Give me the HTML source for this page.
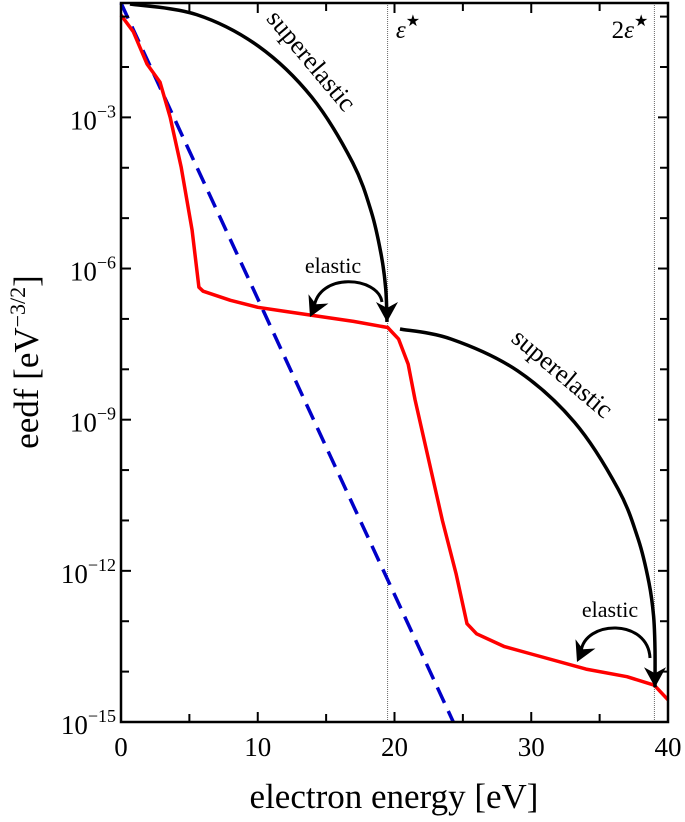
<!DOCTYPE html>
<html><head><meta charset="utf-8"><style>
body{margin:0;background:#fff}
svg text{font-family:"Liberation Serif",serif}
</style></head><body>
<svg id="chart" width="685" height="817" viewBox="0 0 685 817" xmlns="http://www.w3.org/2000/svg">
<g id="plot"></g>
</svg>
<script>
const xTicks=[0,10,20,30,40];
const yTickExp=[-3,-6,-9,-12,-15];
const blueE=[0,5,10,15,20,24.3];
const blueLog=[-0.73,-3.67,-6.6,-9.54,-12.47,-15];
const redE=[0,0.9,1.9,2.85,3.6,4.4,5.2,5.7,6,8,10,12,14,17,19.5,20.3,21,21.5,22.5,23.5,24.5,25.3,26,28,30,34,37,39,40];
const redLog=[-0.97,-1.3,-1.94,-2.3,-3.0,-3.99,-5.24,-6.37,-6.45,-6.63,-6.77,-6.85,-6.93,-7.05,-7.17,-7.4,-7.9,-8.6,-9.8,-11,-12.05,-13.05,-13.25,-13.5,-13.65,-13.95,-14.1,-14.27,-14.56];
const sup1E=[0.66,5.53,10.06,13.95,16.94,18.33,19.04,19.36,19.45];
const sup1Log=[-0.75,-0.96,-1.59,-2.6,-3.9,-4.9,-5.75,-6.4,-7.06];
const sup2E=[20.4,24.15,29.0,33.16,36.36,37.84,38.61,38.95,39.05,39.05];
const sup2Log=[-7.2,-7.4,-8.03,-9.05,-10.38,-11.39,-12.24,-12.9,-13.57,-14.31];

const L=121,R=668,T=3,B=722;
const X=e=>L+(e/40)*(R-L);
const Y=lg=>B-(lg+15)*(B-T)/14.27;
const NS='http://www.w3.org/2000/svg';
const g=document.getElementById('plot');
function mk(tag,attrs,parent){const el=document.createElementNS(NS,tag);for(const k in attrs)el.setAttribute(k,attrs[k]);(parent||g).appendChild(el);return el;}
function pts(E,V){return E.map((e,i)=>X(e).toFixed(1)+','+Y(V[i]).toFixed(1)).join(' ');}
function smooth(E,V){
  const p=E.map((e,i)=>[X(e),Y(V[i])]);
  let d='M'+p[0][0].toFixed(1)+','+p[0][1].toFixed(1);
  for(let i=0;i<p.length-1;i++){
    const p0=p[Math.max(0,i-1)],p1=p[i],p2=p[i+1],p3=p[Math.min(p.length-1,i+2)];
    const c1=[p1[0]+(p2[0]-p0[0])/6,p1[1]+(p2[1]-p0[1])/6];
    const c2=[p2[0]-(p3[0]-p1[0])/6,p2[1]-(p3[1]-p1[1])/6];
    d+=` C${c1[0].toFixed(1)},${c1[1].toFixed(1)} ${c2[0].toFixed(1)},${c2[1].toFixed(1)} ${p2[0].toFixed(1)},${p2[1].toFixed(1)}`;
  }
  return d;
}

let v1=mk('line',{x1:X(19.5),x2:X(19.5),y1:T,y2:B,stroke:'#444','stroke-width':0.8,'stroke-dasharray':'1,1'});


let v2=mk('line',{x1:X(39),x2:X(39),y1:T,y2:B,stroke:'#444','stroke-width':0.8,'stroke-dasharray':'1,1'});



let blue=mk('polyline',{points:pts(blueE,blueLog),fill:'none',stroke:'#0000c8','stroke-width':3.5,'stroke-dasharray':'17,9'});


let red=mk('polyline',{points:pts(redE,redLog),fill:'none',stroke:'#f00','stroke-width':3.5,'stroke-linejoin':'round'});


let s1=mk('path',{d:smooth(sup1E,sup1Log),fill:'none',stroke:'#000','stroke-width':3.5});


let s2=mk('path',{d:smooth(sup2E,sup2Log),fill:'none',stroke:'#000','stroke-width':3.5});



function head(x,y,ang,name){
  const h=mk('path',{d:'M0,0 L-20,-11 L-14,0 L-20,11 Z',fill:'#000',transform:`translate(${x},${y}) rotate(${ang})`});
  
  
}
head(X(19.45),Y(-7.06),90,'superelastic-arrowhead-1');
head(X(39.05),Y(-14.31),90,'superelastic-arrowhead-2');
let a1=mk('path',{d:'M382,302 C378,276 318,272 314,308',fill:'none',stroke:'#000','stroke-width':3});


head(310,317,115,'elastic-arrowhead-1');
let a2=mk('path',{d:'M650,658 C648,618 584,620 581,652',fill:'none',stroke:'#000','stroke-width':3});


head(577,662,115,'elastic-arrowhead-2');

let fr=mk('rect',{x:L,y:T,width:R-L,height:B-T,fill:'none',stroke:'#000','stroke-width':2.5});


for(let e=0;e<=40;e+=5){
  const len=e%10===0?10:8;
  let t=mk('line',{x1:X(e),x2:X(e),y1:B,y2:B-len,stroke:'#000','stroke-width':2});
  
  
  let t2=mk('line',{x1:X(e),x2:X(e),y1:T,y2:T+len,stroke:'#000','stroke-width':2});
  
  
}
xTicks.forEach(e=>{
  let tx=mk('text',{x:X(e),y:B+34,'text-anchor':'middle','font-size':27});
  tx.textContent=e;
  
  
});
for(let k=-15;k<=-1;k++){
  const len=k%3===0?10:8;
  let t=mk('line',{x1:L,x2:L+len,y1:Y(k),y2:Y(k),stroke:'#000','stroke-width':2});
  
  
  let t2=mk('line',{x1:R,x2:R-len,y1:Y(k),y2:Y(k),stroke:'#000','stroke-width':2});
  
  
}
yTickExp.forEach(k=>{
  let tx=mk('text',{x:L-5,y:Y(k)+12,'text-anchor':'end','font-size':27});
  tx.innerHTML='10<tspan dy="-12" font-size="18">−'+(-k)+'</tspan>';
  
  
});
</script>
<script>
(function(){
const g=document.getElementById('plot');const NS='http://www.w3.org/2000/svg';
function t(x,y,size,html,name,rot){const el=document.createElementNS(NS,'text');el.setAttribute('x',x);el.setAttribute('y',y);el.setAttribute('font-size',size);el.setAttribute('text-anchor','middle');if(rot)el.setAttribute('transform',`rotate(${rot} ${x} ${y})`);el.innerHTML=html;


g.appendChild(el);}
t(305,66,26,'superelastic','superelastic-label-1',50);
t(557,380,26,'superelastic','superelastic-label-2',40);
t(333,273,22,'elastic','elastic-label-1');
t(610,617,22,'elastic','elastic-label-2');
t(408,38,25,'<tspan font-style="italic">ε</tspan><tspan dy="-12" font-size="16">★</tspan>','epsilon-star-label');
t(630,38,25,'2<tspan font-style="italic">ε</tspan><tspan dy="-12" font-size="16">★</tspan>','two-epsilon-star-label');
t(394,808,35,'electron energy [eV]','x-axis-title');
t(38,362,35,'eedf [eV<tspan dy="-13" font-size="22">−3/2</tspan><tspan dy="13">]</tspan>','y-axis-title',-90);
})();
</script>
</body></html>
